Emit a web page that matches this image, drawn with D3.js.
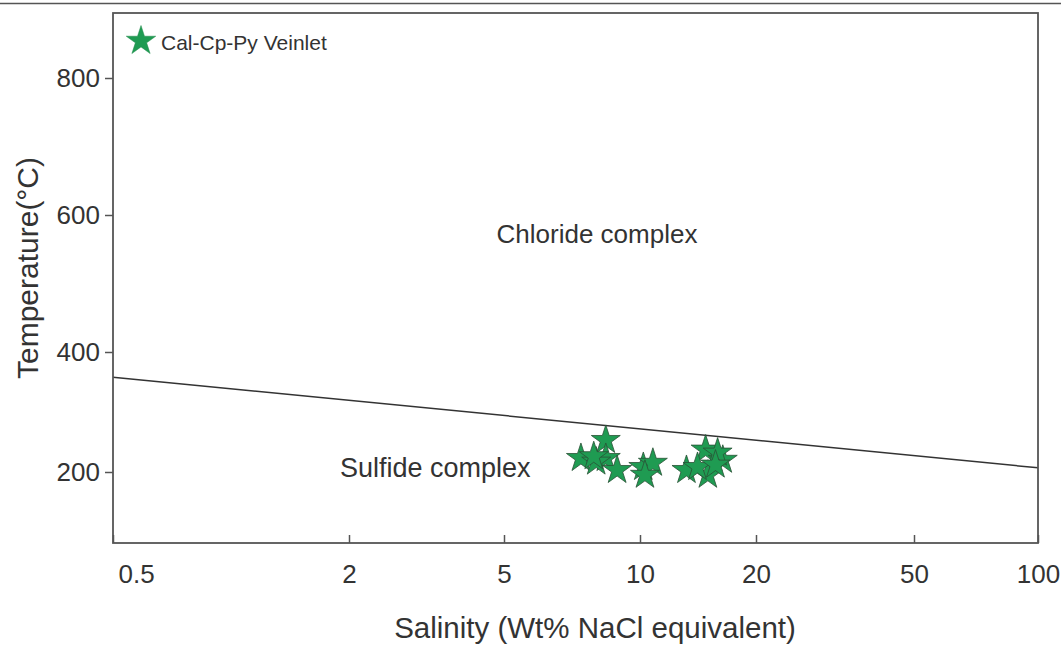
<!DOCTYPE html>
<html>
<head>
<meta charset="utf-8">
<script src="https://cdn.jsdelivr.net/npm/d3@7"></script>
<style>
  body { margin: 0; background: #fff; }
  text { font-family: "Liberation Sans", Arial, sans-serif; fill: #333; }
</style>
</head>
<body>
<svg></svg>

<script>

  // salinity (wt% NaCl eq.) and homogenization temperature of the inclusions
  var salinity = [7.4, 8.4, 8.4, 8.0, 7.9, 8.9, 10.2, 10.8, 10.3, 14.8, 13.2, 16.4, 15.9, 15.0, 14.1, 15.7];
  var temperature = [223, 253, 223, 217, 226, 203, 208, 215, 195, 237, 203, 220, 232, 195, 208, 212];

  // chloride / sulfide complex boundary
  var boundarySal = [0.5, 100];
  var boundaryTemp = [358, 207];

  var xTicks = [0.5, 2, 5, 10, 20, 50, 100];
  var yTicks = [200, 400, 600, 800];

  var W = 1061, H = 645;
  var margin = {left: 113, top: 13};
  var width = 925, height = 530;

  var svg = d3.select("svg").attr("width", W).attr("height", H);

  // rule across the top of the figure
  svg.append("line")
    .attr("x1", 0).attr("x2", W)
    .attr("y1", 3.5).attr("y2", 3.5)
    .attr("stroke", "#555").attr("stroke-width", 1.6);

  var g = svg.append("g").attr("transform", "translate(" + margin.left + "," + margin.top + ")");

  // the original figure is hand-drafted, so the axes are not quite even
  var x = d3.scaleLog()
    .domain(xTicks)
    .range([0, 236, 391, 527, 643, 801, 925]);

  var y = d3.scaleLinear()
    .domain(yTicks)
    .range([459, 339, 202, 65]);

  // boundary line
  g.append("line")
    .attr("x1", x(boundarySal[0])).attr("y1", y(boundaryTemp[0]))
    .attr("x2", x(boundarySal[1])).attr("y2", y(boundaryTemp[1]))
    .attr("stroke", "#333").attr("stroke-width", 1.5);

  // axes
  var xAxis = g.append("g")
    .attr("transform", "translate(0," + height + ")")
    .call(d3.axisBottom(x).tickValues(xTicks).tickSizeInner(-8).tickSizeOuter(0)
      .tickPadding(22).tickFormat(function(d) { return String(d); }));
  xAxis.select(".domain").remove();
  xAxis.selectAll("line").attr("stroke", "#555").attr("stroke-width", 1.5);
  xAxis.selectAll("text").attr("font-size", 26).attr("fill", "#333")
    .style("font-family", "'Liberation Sans', Arial, sans-serif");
  xAxis.selectAll("text").filter(function(d) { return d === 0.5; })
    .attr("text-anchor", "start").attr("x", 5);

  var yAxis = g.append("g")
    .call(d3.axisLeft(y).tickValues(yTicks).tickSizeInner(8).tickSizeOuter(0).tickPadding(5));
  yAxis.select(".domain").remove();
  yAxis.selectAll("line").attr("stroke", "#555").attr("stroke-width", 1.5);
  yAxis.selectAll("text").attr("font-size", 26).attr("fill", "#333")
    .style("font-family", "'Liberation Sans', Arial, sans-serif");

  // frame
  g.append("rect")
    .attr("width", width).attr("height", height)
    .attr("fill", "none").attr("stroke", "#555").attr("stroke-width", 1.8);

  // field labels
  g.append("text")
    .attr("x", x(10) - 43).attr("y", y(600) + 28)
    .attr("text-anchor", "middle").attr("font-size", 26)
    .text("Chloride complex");
  g.append("text")
    .attr("x", x(2) - 9).attr("y", y(200) + 5)
    .attr("font-size", 27)
    .text("Sulfide complex");

  // data
  var star = d3.symbol().type(d3.symbolStar).size(260);
  var pts = salinity.map(function(s, i) { return [s, temperature[i]]; });

  g.selectAll("path.pt").data(pts).enter()
    .append("path")
    .attr("class", "pt")
    .attr("d", star)
    .attr("transform", function(d) { return "translate(" + x(d[0]) + "," + y(d[1]) + ")"; })
    .attr("fill", "#1f9b52")
    .attr("stroke", "#2a5236")
    .attr("stroke-width", 0.8);

  // legend
  var leg = g.append("g").attr("transform", "translate(28,28)");
  leg.append("path").attr("d", d3.symbol().type(d3.symbolStar).size(270))
    .attr("fill", "#1f9b52").attr("stroke", "#1f8a4a").attr("stroke-width", 0.5);
  leg.append("text").attr("x", 20).attr("y", 9).attr("font-size", 21).text("Cal-Cp-Py Veinlet");

  // axis titles
  svg.append("text")
    .attr("x", 595).attr("y", 638)
    .attr("text-anchor", "middle").attr("font-size", 29.5)
    .text("Salinity (Wt% NaCl equivalent)");

  svg.append("text")
    .attr("transform", "translate(38,268) rotate(-90)")
    .attr("text-anchor", "middle").attr("font-size", 30)
    .text("Temperature(°C)");

</script>
</body>
</html>
